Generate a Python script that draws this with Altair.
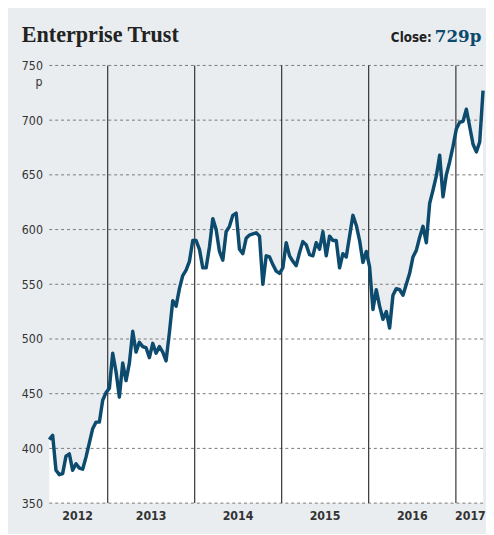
import altair as alt
import pandas as pd

# ---- data (fortnightly samples from May 2012) ----
start_date = "2012-05-01"
prices = [
    408, 412, 380, 376, 377, 393, 395, 380, 386, 382,
    381, 392, 405, 418, 424, 424, 444, 451, 455, 487,
    470, 447, 478, 462, 478, 507, 488, 497, 493, 492,
    483, 496, 487, 493, 488, 480, 506, 535, 530, 546,
    558, 563, 571, 590, 590, 582, 565, 565, 584, 610,
    600, 580, 572, 598, 603, 613, 615, 582, 578, 592,
    595, 596, 597, 594, 550, 576, 575, 568, 562, 560,
    565, 588, 576, 571, 567, 579, 589, 586, 577, 576,
    588, 582, 598, 576, 594, 590, 590, 565, 578, 575,
    594, 613, 604, 590, 570, 580, 566, 527, 545, 530,
    518, 525, 510, 540, 546, 545, 540, 550, 560, 575,
    581, 593, 603, 588, 624, 636, 649, 668, 630, 650,
    662, 676, 692, 698, 699, 710, 694, 678, 671, 680,
    727,
]
year_starts = ["2013-01-01", "2014-01-01", "2015-01-01", "2016-01-01", "2017-01-01"]
year_label_dates = ["2012-08-28", "2013-07-02", "2014-07-02", "2015-07-02", "2016-07-02", "2017-03-03"]
year_labels = ["2012", "2013", "2014", "2015", "2016", "2017"]
y_ticks = [350, 400, 450, 500, 550, 600, 650, 700, 750]
title_text = "Enterprise Trust"
close_label = "Close:"
close_price = 729

W, H = 441, 445
BG = "#e9edf0"
LINE = "#0c4a6e"
SANS = "DejaVu Sans Condensed"
SERIF = "Liberation Serif"

df = pd.DataFrame({
    "date": pd.date_range(start_date, periods=len(prices), freq="14D"),
    "price": prices,
})
x_scale = alt.Scale(domain=[pd.Timestamp("2012-05-01").isoformat(), pd.Timestamp("2017-04-25").isoformat()])
y_scale = alt.Scale(domain=[350, 750], nice=False, zero=False)
y_axis = alt.Axis(values=y_ticks, domain=False, ticks=False, grid=False, title=None,
                  labelFont=SANS, labelFontSize=12.5, labelColor="#333", labelPadding=7)

base = alt.Chart(df)

area = base.mark_area(color="white", opacity=1).encode(
    x=alt.X("date:T", scale=x_scale, axis=None),
    y=alt.Y("price:Q", scale=y_scale, axis=y_axis),
    y2=alt.datum(350),
)

grid = alt.Chart(pd.DataFrame({"price": y_ticks})).mark_rule(
    color="#777", strokeWidth=1, strokeDash=[3, 3]
).encode(y=alt.Y("price:Q", scale=y_scale, axis=y_axis))

years = alt.Chart(pd.DataFrame({"date": pd.to_datetime(year_starts)})).mark_rule(
    color="#333", strokeWidth=1.2
).encode(x=alt.X("date:T", scale=x_scale, axis=None))

line = base.mark_line(color=LINE, strokeWidth=3.5, strokeJoin="round").encode(
    x=alt.X("date:T", scale=x_scale, axis=None),
    y=alt.Y("price:Q", scale=y_scale, axis=y_axis),
)

year_text = alt.Chart(pd.DataFrame({"date": pd.to_datetime(year_label_dates), "label": year_labels})).mark_text(
    font=SANS, fontSize=12.5, fontWeight="bold", color="#333", baseline="middle", align="center"
).encode(x=alt.X("date:T", scale=x_scale, axis=None), y=alt.value(458), text="label:N")

head = pd.DataFrame({"t": [title_text], "c": [close_label], "p": [f"{close_price}p"], "u": ["p"]})
title = alt.Chart(head).mark_text(
    font=SERIF, fontSize=22.5, fontWeight="bold", color="#222", align="left", baseline="alphabetic"
).encode(x=alt.value(-28), y=alt.value(-24), text="t:N")
close_t = alt.Chart(head).mark_text(
    font=SANS, fontSize=13.5, fontWeight=600, color="#222", align="right", baseline="alphabetic"
).encode(x=alt.value(389), y=alt.value(-24), text="c:N")
close_v = alt.Chart(head).mark_text(
    font="DejaVu Serif", fontSize=17, fontWeight="bold", color=LINE, align="left", baseline="alphabetic"
).encode(x=alt.value(392), y=alt.value(-24), text="p:N")
unit = alt.Chart(head).mark_text(
    font=SANS, fontSize=12.5, color="#333", align="right", baseline="middle"
).encode(x=alt.value(-7), y=alt.value(17), text="u:N")

chart = alt.layer(area, grid, years, line, year_text, title, close_t, close_v, unit).properties(
    width=W, height=H,
    padding={"left": 42, "top": 54, "right": 3, "bottom": 27},
    autosize=alt.AutoSizeParams(type="none"),
    background=BG,
).configure_view(stroke=None)

chart.save("out.html", embed_options={"renderer": "svg", "actions": False})
